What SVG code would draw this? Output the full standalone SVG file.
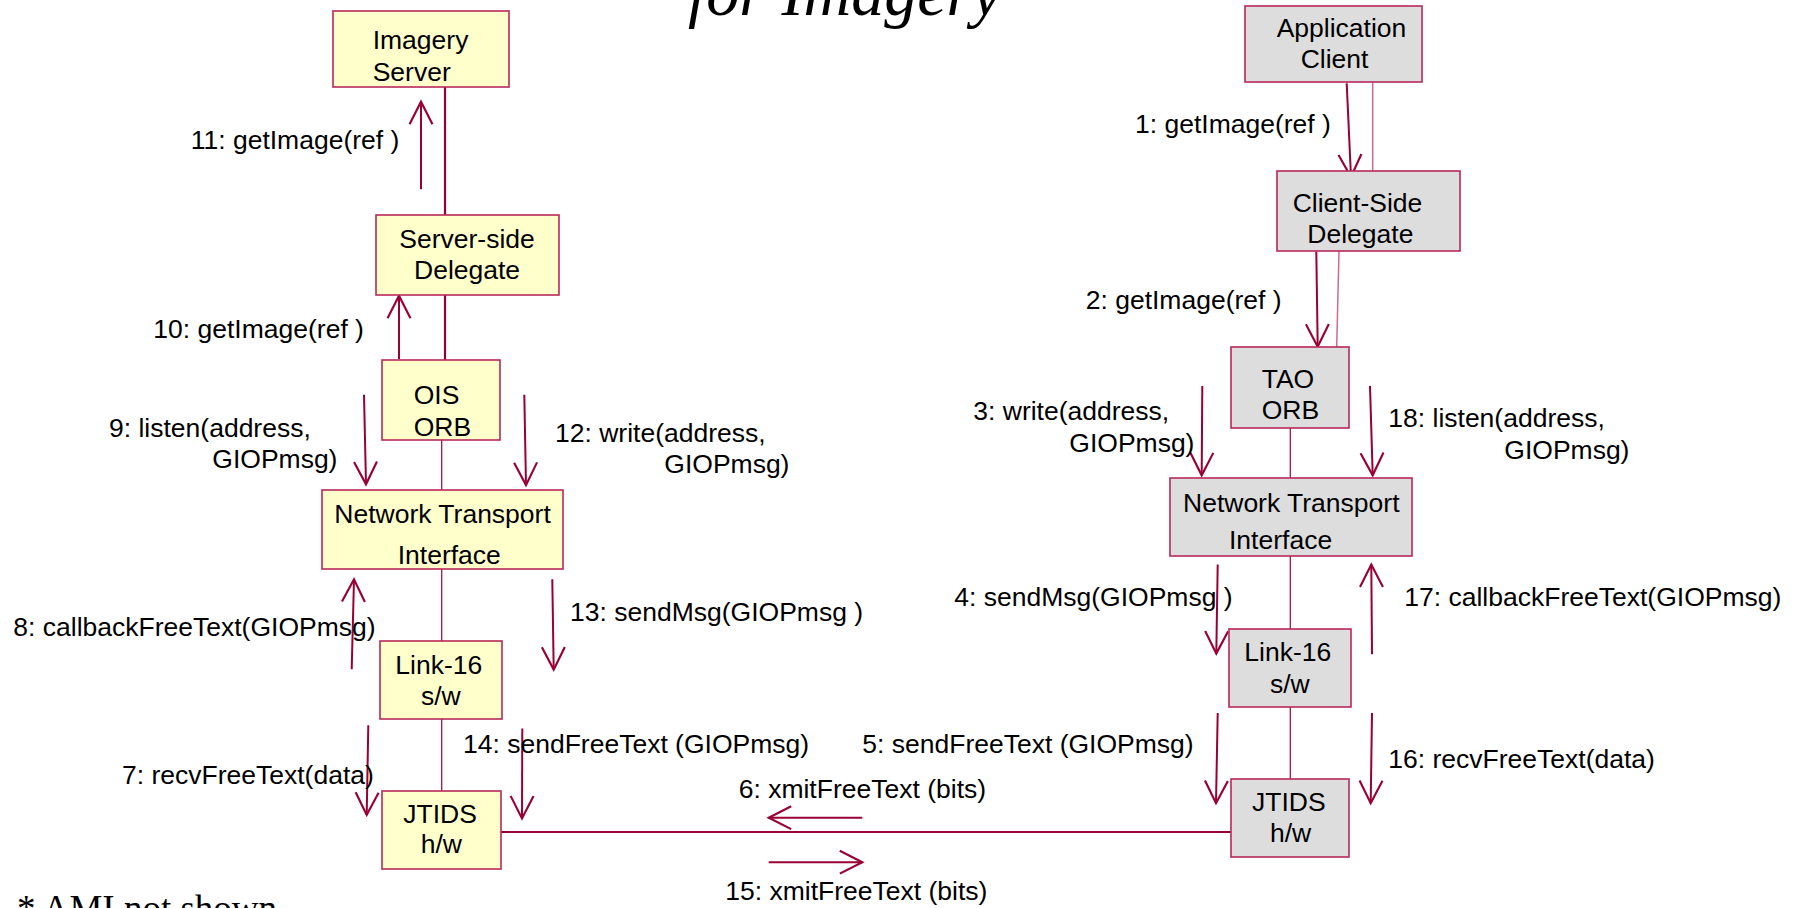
<svg xmlns="http://www.w3.org/2000/svg" width="1799" height="908" viewBox="0 0 1799 908">
  <defs>
    <style>
      .lbl { font-family: "Liberation Sans", Arial, sans-serif; font-size: 26.5px; fill: #000; }
      .box-y { fill: #FFFFCC; stroke: #B8285A; stroke-width: 1.6; }
      .box-g { fill: #DDDDDD; stroke: #B8285A; stroke-width: 1.6; }
      .msg { stroke: #990033; stroke-width: 2; fill: none; marker-end: url(#open); }
      .link { stroke: #A01848; stroke-width: 1.3; fill: none; }
      .link-b { stroke: #990033; stroke-width: 2.2; fill: none; }
      .link-l { stroke: #D06A8C; stroke-width: 1.5; fill: none; }
      .title { font-family: "Liberation Serif", "Times New Roman", serif; font-style: italic; font-size: 66px; fill: #000; }
      .note { font-family: "Liberation Serif", "Times New Roman", serif; font-size: 37px; fill: #000; }
    </style>
    <marker id="open" markerUnits="userSpaceOnUse" markerWidth="30" markerHeight="30" viewBox="-24 -14 28 28" refX="0" refY="0" orient="auto" overflow="visible">
      <path d="M -21 -10.7 L 0 0 L -21 10.7" fill="none" stroke="#990033" stroke-width="2"/>
    </marker>
  </defs>

  <rect width="1799" height="908" fill="#FFFFFF"/>

  <text class="title" x="688" y="15">for Imagery</text>

  <!-- connectors: association lines, message arrows and their labels -->
  <g id="connectors">
    <!-- associations, server side -->
    <line class="link-b" x1="445" y1="87" x2="445" y2="215"/>
    <line class="link-b" x1="445" y1="295" x2="445" y2="360"/>
    <line class="link" x1="441.7" y1="440" x2="441.7" y2="490"/>
    <line class="link" x1="441.7" y1="569" x2="441.7" y2="641"/>
    <line class="link" x1="441.7" y1="719" x2="441.7" y2="791"/>
    <!-- associations, client side -->
    <line class="link-l" x1="1372.7" y1="82" x2="1372.7" y2="171"/>
    <line class="link-l" x1="1339" y1="251" x2="1336.7" y2="347"/>
    <line class="link" x1="1290.3" y1="428" x2="1290.3" y2="478"/>
    <line class="link" x1="1290.3" y1="556" x2="1290.3" y2="629"/>
    <line class="link" x1="1290.3" y1="707" x2="1290.3" y2="779"/>
    <!-- radio link between the two JTIDS terminals -->
    <line class="link-b" x1="501" y1="832" x2="1231" y2="832"/>

    <!-- messages -->
    <path class="msg" d="M 1346.7 83.3 L 1351 177"/>
    <path class="msg" d="M 1316.3 251.7 L 1317.7 346.7"/>
    <path class="msg" d="M 1202.3 385.9 L 1201.7 475.3"/>
    <path class="msg" d="M 1217.7 564.5 L 1216.3 653.6"/>
    <path class="msg" d="M 1217.7 713 L 1216 803.2"/>
    <path class="msg" d="M 862.3 817.7 L 768.7 817.7"/>
    <path class="msg" d="M 368.3 725.3 L 366.7 815"/>
    <path class="msg" d="M 351.7 669.3 L 354 579.3"/>
    <path class="msg" d="M 364 394.7 L 366 484.3"/>
    <path class="msg" d="M 399 359.3 L 399 295.7"/>
    <path class="msg" d="M 421 189.3 L 421 101.7"/>
    <path class="msg" d="M 524.3 394.8 L 526 485.1"/>
    <path class="msg" d="M 552.3 579.3 L 553.7 669.6"/>
    <path class="msg" d="M 522.3 728.5 L 522 818.4"/>
    <path class="msg" d="M 768.7 862.2 L 862.3 862.2"/>
    <path class="msg" d="M 1372 713 L 1370.7 803.2"/>
    <path class="msg" d="M 1372 654.3 L 1371.3 564.5"/>
    <path class="msg" d="M 1370 385.9 L 1372.7 475.3"/>

    <!-- message labels -->
    <text class="lbl" x="1135" y="132.7">1: getImage(ref )</text>
    <text class="lbl" x="1085.7" y="309.3">2: getImage(ref )</text>
    <text class="lbl" x="973.3" y="420">3: write(address,</text>
    <text class="lbl" x="1069.3" y="451.7">GIOPmsg)</text>
    <text class="lbl" x="954.3" y="606">4: sendMsg(GIOPmsg )</text>
    <text class="lbl" x="862.3" y="753">5: sendFreeText (GIOPmsg)</text>
    <text class="lbl" x="738.7" y="797.5">6: xmitFreeText (bits)</text>
    <text class="lbl" x="122" y="784">7: recvFreeText(data)</text>
    <text class="lbl" x="13.3" y="635.7">8: callbackFreeText(GIOPmsg)</text>
    <text class="lbl" x="109" y="436.5">9: listen(address,</text>
    <text class="lbl" x="212.3" y="468.3">GIOPmsg)</text>
    <text class="lbl" x="153.3" y="338.3">10: getImage(ref )</text>
    <text class="lbl" x="190.7" y="149">11: getImage(ref )</text>
    <text class="lbl" x="555" y="442.3">12: write(address,</text>
    <text class="lbl" x="664.3" y="473.3">GIOPmsg)</text>
    <text class="lbl" x="570" y="621">13: sendMsg(GIOPmsg )</text>
    <text class="lbl" x="463" y="753">14: sendFreeText (GIOPmsg)</text>
    <text class="lbl" x="725.3" y="900.2">15: xmitFreeText (bits)</text>
    <text class="lbl" x="1388.3" y="768.3">16: recvFreeText(data)</text>
    <text class="lbl" x="1404.3" y="606">17: callbackFreeText(GIOPmsg)</text>
    <text class="lbl" x="1388.3" y="426.7">18: listen(address,</text>
    <text class="lbl" x="1504.3" y="459">GIOPmsg)</text>
  </g>

  <!-- server side objects -->
  <g id="imagery-server">
    <rect class="box-y" x="333" y="11" width="176" height="76"/>
    <text class="lbl" x="372.7" y="49.3">Imagery</text>
    <text class="lbl" x="372.7" y="80.7">Server</text>
  </g>
  <g id="server-side-delegate">
    <rect class="box-y" x="376" y="215" width="183" height="80"/>
    <text class="lbl" x="399.3" y="248.3">Server-side</text>
    <text class="lbl" x="414" y="279.3">Delegate</text>
  </g>
  <g id="ois-orb">
    <rect class="box-y" x="382" y="360" width="118" height="80"/>
    <text class="lbl" x="413.7" y="404.3">OIS</text>
    <text class="lbl" x="413.7" y="436">ORB</text>
  </g>
  <g id="server-nti">
    <rect class="box-y" x="322" y="490" width="241" height="79"/>
    <text class="lbl" x="334.3" y="523.3">Network Transport</text>
    <text class="lbl" x="397.7" y="564.3">Interface</text>
  </g>
  <g id="server-link16">
    <rect class="box-y" x="380" y="641" width="122" height="78"/>
    <text class="lbl" x="395.3" y="674.3">Link-16</text>
    <text class="lbl" x="421" y="705">s/w</text>
  </g>
  <g id="server-jtids">
    <rect class="box-y" x="382" y="791" width="119" height="78"/>
    <text class="lbl" x="403.3" y="822.7">JTIDS</text>
    <text class="lbl" x="420.7" y="853.3">h/w</text>
  </g>

  <!-- client side objects -->
  <g id="application-client">
    <rect class="box-g" x="1245" y="6" width="177" height="76"/>
    <text class="lbl" x="1276.7" y="36.7">Application</text>
    <text class="lbl" x="1300.7" y="68.3">Client</text>
  </g>
  <g id="client-side-delegate">
    <rect class="box-g" x="1277" y="171" width="183" height="80"/>
    <text class="lbl" x="1292.7" y="211.7">Client-Side</text>
    <text class="lbl" x="1307.3" y="243.3">Delegate</text>
  </g>
  <g id="tao-orb">
    <rect class="box-g" x="1231" y="347" width="118" height="81"/>
    <text class="lbl" x="1261.7" y="388.3">TAO</text>
    <text class="lbl" x="1261.7" y="419.3">ORB</text>
  </g>
  <g id="client-nti">
    <rect class="box-g" x="1170" y="478" width="242" height="78"/>
    <text class="lbl" x="1183" y="512">Network Transport</text>
    <text class="lbl" x="1229" y="548.7">Interface</text>
  </g>
  <g id="client-link16">
    <rect class="box-g" x="1229" y="629" width="122" height="78"/>
    <text class="lbl" x="1244.3" y="661.3">Link-16</text>
    <text class="lbl" x="1270" y="693.1">s/w</text>
  </g>
  <g id="client-jtids">
    <rect class="box-g" x="1231" y="779" width="118" height="78"/>
    <text class="lbl" x="1252" y="810.9">JTIDS</text>
    <text class="lbl" x="1270" y="841.6">h/w</text>
  </g>

  <text class="note" x="17" y="921">* AMI not shown</text>
</svg>
